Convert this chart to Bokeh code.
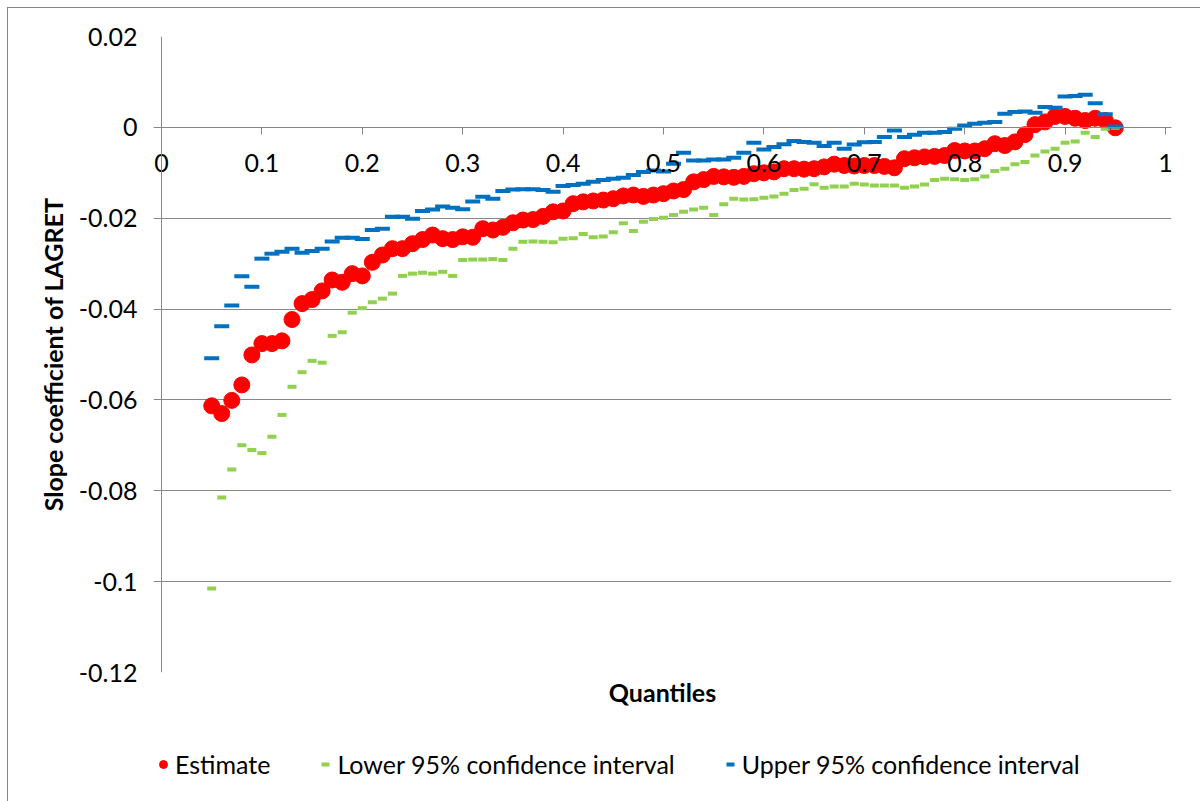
from bokeh.plotting import figure
from bokeh.layouts import column
from bokeh.models import (Range1d, FixedTicker, Title, Legend, LegendItem, Span)
from bokeh.embed import file_html
from bokeh.resources import INLINE

quantiles = [round(0.05 + 0.01 * i, 2) for i in range(91)]

estimate = [
    -0.0613, -0.0630, -0.0601, -0.0567, -0.0501, -0.0476, -0.0476, -0.0470, -0.0423, -0.0388,
    -0.0379, -0.0360, -0.0336, -0.0341, -0.0322, -0.0327, -0.0297, -0.0281, -0.0267, -0.0267,
    -0.0256, -0.0247, -0.0237, -0.0245, -0.0247, -0.0241, -0.0242, -0.0223, -0.0226, -0.0220,
    -0.0210, -0.0204, -0.0203, -0.0196, -0.0186, -0.0184, -0.0168, -0.0164, -0.0162, -0.0160,
    -0.0157, -0.0151, -0.0149, -0.0152, -0.0149, -0.0146, -0.0140, -0.0137, -0.0120, -0.0115,
    -0.0108, -0.0109, -0.0110, -0.0108, -0.0102, -0.0100, -0.0098, -0.0091, -0.0091, -0.0092,
    -0.0091, -0.0087, -0.0081, -0.0084, -0.0085, -0.0084, -0.0084, -0.0086, -0.0089, -0.0069,
    -0.0067, -0.0065, -0.0064, -0.0062, -0.0051, -0.0052, -0.0052, -0.0047, -0.0036, -0.0040,
    -0.0032, -0.0016, 0.0006, 0.0012, 0.0024, 0.0024, 0.0020, 0.0015, 0.0020, 0.0015,
    -0.0001,
]

lower = [
    -0.1015, -0.0815, -0.0753, -0.0700, -0.0710, -0.0717, -0.0681, -0.0633, -0.0571, -0.0539,
    -0.0514, -0.0518, -0.0459, -0.0451, -0.0408, -0.0398, -0.0385, -0.0377, -0.0366, -0.0327,
    -0.0322, -0.0320, -0.0322, -0.0318, -0.0327, -0.0292, -0.0291, -0.0291, -0.0290, -0.0292,
    -0.0267, -0.0252, -0.0251, -0.0252, -0.0253, -0.0245, -0.0244, -0.0235, -0.0242, -0.0240,
    -0.0231, -0.0211, -0.0228, -0.0208, -0.0202, -0.0199, -0.0193, -0.0186, -0.0181, -0.0177,
    -0.0193, -0.0169, -0.0157, -0.0159, -0.0158, -0.0155, -0.0152, -0.0146, -0.0138, -0.0135,
    -0.0125, -0.0133, -0.0130, -0.0130, -0.0124, -0.0126, -0.0128, -0.0128, -0.0128, -0.0133,
    -0.0130, -0.0126, -0.0116, -0.0113, -0.0114, -0.0116, -0.0114, -0.0108, -0.0096, -0.0091,
    -0.0081, -0.0076, -0.0062, -0.0053, -0.0047, -0.0034, -0.0031, -0.0012, -0.0021, -0.0003,
    -0.0001,
]

upper = [
    -0.0508, -0.0438, -0.0392, -0.0328, -0.0351, -0.0289, -0.0278, -0.0274, -0.0267, -0.0276,
    -0.0272, -0.0267, -0.0251, -0.0243, -0.0243, -0.0246, -0.0226, -0.0223, -0.0197, -0.0197,
    -0.0201, -0.0184, -0.0181, -0.0174, -0.0177, -0.0180, -0.0163, -0.0153, -0.0157, -0.0140,
    -0.0137, -0.0136, -0.0136, -0.0138, -0.0142, -0.0129, -0.0127, -0.0124, -0.0120, -0.0116,
    -0.0113, -0.0111, -0.0105, -0.0098, -0.0095, -0.0097, -0.0080, -0.0056, -0.0073, -0.0073,
    -0.0071, -0.0071, -0.0067, -0.0056, -0.0034, -0.0049, -0.0043, -0.0037, -0.0030, -0.0032,
    -0.0034, -0.0041, -0.0034, -0.0047, -0.0038, -0.0033, -0.0032, -0.0021, -0.0007, -0.0021,
    -0.0016, -0.0012, -0.0012, -0.0010, -0.0003, 0.0004, 0.0008, 0.0010, 0.0012, 0.0030,
    0.0034, 0.0035, 0.0032, 0.0045, 0.0043, 0.0068, 0.0069, 0.0072, 0.0053, 0.0029,
    0.0002,
]

series_names = ["Estimate", "Lower 95% confidence interval", "Upper 95% confidence interval"]

y_ticks = [-0.12, -0.1, -0.08, -0.06, -0.04, -0.02, 0, 0.02]
y_labels = ["-0.12", "-0.1", "-0.08", "-0.06", "-0.04", "-0.02", "0", "0.02"]
x_ticks = [0, 0.1, 0.2, 0.3, 0.4, 0.5, 0.6, 0.7, 0.8, 0.9, 1]
x_labels = ["0", "0.1", "0.2", "0.3", "0.4", "0.5", "0.6", "0.7", "0.8", "0.9", "1"]

FONT = "Lato"
FS = "25px"
GRAY = "#868686"
RED, GREEN, BLUE = "#FF0000", "#92D050", "#0070C0"

# frame runs from 8 px left of x=0 to 6 px right of x=1 (1004 px per unit)
X_START, X_END = -8 / 1004, 1 + 6 / 1004

p = figure(width=1200, height=745, output_backend="svg", toolbar_location=None,
           x_range=Range1d(X_START, X_END), y_range=Range1d(-0.12, 0.02),
           min_border_left=153, min_border_right=29, min_border_top=36, min_border_bottom=73)
p.title.visible = False
p.outline_line_color = None
p.background_fill_color = None
p.border_fill_color = None

# grid
p.xgrid.visible = False
p.ygrid.ticker = FixedTicker(ticks=y_ticks)
p.ygrid.grid_line_color = GRAY
p.ygrid.grid_line_width = 1

# y axis (labels at left, axis line drawn at x = 0)
ya = p.yaxis[0]
ya.ticker = FixedTicker(ticks=y_ticks)
ya.major_label_overrides = dict(zip(y_ticks, y_labels))
ya.axis_line_color = None
ya.major_tick_line_color = None
ya.major_tick_out = 0
ya.major_tick_in = 0
ya.minor_tick_line_color = None
ya.major_label_standoff = 16
ya.major_label_text_font = FONT
ya.major_label_text_font_size = FS
ya.major_label_text_color = "black"
ya.axis_label = "Slope coefficient of LAGRET"
ya.axis_label_text_font = FONT
ya.axis_label_text_font_size = FS
ya.axis_label_text_font_style = "bold"
ya.axis_label_text_color = "black"
ya.axis_label_standoff = 8
p.add_layout(Span(location=x_ticks[0], dimension="height", line_color=GRAY, line_width=1))

# x axis crossing at y = 0
xa = p.xaxis[0]
xa.fixed_location = 0
xa.ticker = FixedTicker(ticks=x_ticks)
xa.major_label_overrides = dict(zip(x_ticks, x_labels))
xa.axis_line_color = GRAY
xa.major_tick_line_color = GRAY
xa.major_tick_out = 7
xa.major_tick_in = 0
xa.minor_tick_line_color = None
xa.major_label_standoff = 20
xa.major_label_text_font = FONT
xa.major_label_text_font_size = FS
xa.major_label_text_color = "black"

# series
p.scatter(quantiles, estimate, marker="circle", size=16, fill_color=RED, line_color=RED)
p.scatter(quantiles, lower, marker="dash", size=9, line_width=4, line_color=GREEN)
p.scatter(quantiles, upper, marker="dash", size=15, line_width=4, line_color=BLUE)

# x axis title
p.add_layout(Title(text="Quantiles", align="center", text_font=FONT,
                   text_font_size=FS, text_font_style="bold",
                   text_color="black", standoff=4), "below")

# legend strip (series drawn outside its visible range, only their legend glyphs show)
pl = figure(width=1200, height=56, output_backend="svg", toolbar_location=None,
            x_range=Range1d(X_START, X_END), y_range=Range1d(10, 11),
            min_border_left=0, min_border_right=0, min_border_top=0, min_border_bottom=0)
pl.title.visible = False
pl.axis.visible = False
pl.grid.visible = False
pl.outline_line_color = None
pl.background_fill_color = None
pl.border_fill_color = None
l_est = pl.scatter(quantiles, estimate, marker="circle", size=16, fill_color=RED, line_color=RED)
l_low = pl.scatter(quantiles, lower, marker="dash", size=9, line_width=4, line_color=GREEN)
l_up = pl.scatter(quantiles, upper, marker="dash", size=15, line_width=4, line_color=BLUE)

legend = Legend(items=[
    LegendItem(label=series_names[0], renderers=[l_est]),
    LegendItem(label=series_names[1], renderers=[l_low]),
    LegendItem(label=series_names[2], renderers=[l_up]),
], orientation="horizontal", location=(0, 22),
   label_text_font=FONT, label_text_font_size=FS, label_text_color="black",
   glyph_width=20, glyph_height=24, label_standoff=2, spacing=45,
   border_line_color=None, background_fill_alpha=0, margin=0, padding=0)
pl.add_layout(legend, "center")

layout = column(p, pl, spacing=0,
                styles={"box-shadow": "inset 7px 7px 0 0 white, inset 8px 8px 0 0 #868686",
                        "background-color": "white"})

open("out.html", "w").write(file_html(layout, INLINE))
